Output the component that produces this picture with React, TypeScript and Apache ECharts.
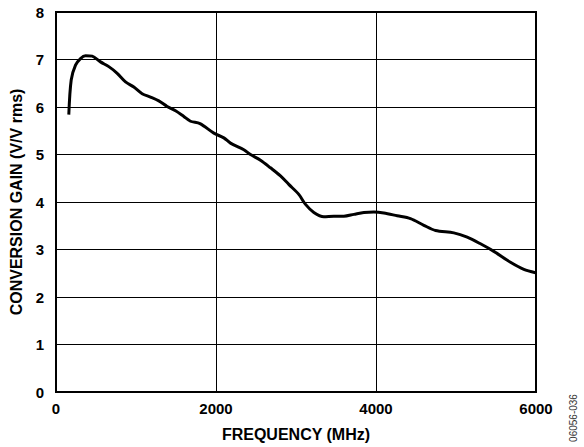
import React, { useEffect, useRef } from "react";
import * as echarts from "echarts";

const frequencyMHz = [
  160, 190, 244, 306, 369, 452, 556, 660, 765, 869, 973, 1077, 1181, 1285, 1390,
  1494, 1598, 1681, 1800, 1973, 2098, 2181, 2348, 2431, 2556, 2681, 2806, 2910,
  3035, 3119, 3223, 3348, 3473, 3598, 3723, 3848, 3973, 4098, 4265, 4431, 4598,
  4744, 4973, 5140, 5306, 5473, 5681, 5848, 5994,
];
const conversionGain = [
  5.84, 6.57, 6.88, 7.02, 7.08, 7.07, 6.95, 6.85, 6.71, 6.53, 6.42, 6.28, 6.21,
  6.13, 6.01, 5.92, 5.8, 5.7, 5.65, 5.45, 5.35, 5.24, 5.1, 5.0, 4.88, 4.72, 4.55,
  4.37, 4.16, 3.95, 3.78, 3.69, 3.7, 3.7, 3.74, 3.78, 3.79, 3.77, 3.71, 3.65, 3.51,
  3.4, 3.35, 3.26, 3.12, 2.96, 2.73, 2.58, 2.51,
];
const xTicks = { min: 0, max: 6000, interval: 2000 };
const yTicks = { min: 0, max: 8, interval: 1 };
const xName = "FREQUENCY (MHz)";
const yName = "CONVERSION GAIN (V/V rms)";
const figureId = "06056-036";

export default function App() {
  const ref = useRef<HTMLDivElement>(null);
  useEffect(() => {
    if (!ref.current) return;
    const chart = echarts.init(ref.current, null, { renderer: "svg" });
    const font = "'Liberation Sans', Arial, sans-serif";
    chart.setOption({
      animation: false,
      backgroundColor: "#ffffff",
      grid: {
        left: 56,
        right: 48,
        top: 12,
        bottom: 52,
        show: true,
        borderColor: "#000",
        borderWidth: 2,
        backgroundColor: "transparent",
      },
      xAxis: {
        type: "value",
        min: xTicks.min,
        max: xTicks.max,
        interval: xTicks.interval,
        name: xName,
        nameLocation: "middle",
        nameGap: 34,
        nameTextStyle: { fontFamily: font, fontWeight: "bold", fontSize: 16, color: "#000" },
        axisLine: { show: true, lineStyle: { color: "#000", width: 2 } },
        axisTick: { show: false },
        axisLabel: {
          fontFamily: font,
          fontWeight: "bold",
          fontSize: 15,
          color: "#000",
          margin: 9,
          formatter: (v: number) => String(v),
        },
        splitLine: { show: true, lineStyle: { color: "#000", width: 1 } },
      },
      yAxis: {
        type: "value",
        min: yTicks.min,
        max: yTicks.max,
        interval: yTicks.interval,
        name: yName,
        nameLocation: "middle",
        nameGap: 32,
        nameTextStyle: { fontFamily: font, fontWeight: "bold", fontSize: 16, color: "#000" },
        axisLine: { show: true, lineStyle: { color: "#000", width: 2 } },
        axisTick: { show: false },
        axisLabel: {
          fontFamily: font,
          fontWeight: "bold",
          fontSize: 15,
          color: "#000",
          margin: 12,
          formatter: (v: number) => String(v),
        },
        splitLine: { show: true, lineStyle: { color: "#000", width: 1 } },
      },
      graphic: [
        {
          type: "text",
          x: 573,
          y: 418,
          rotation: Math.PI / 2,
          style: {
            text: figureId,
            fontFamily: font,
            fontSize: 10,
            fill: "#333",
            align: "center",
            verticalAlign: "middle",
          },
        },
      ],
      series: [
        {
          type: "line",
          data: frequencyMHz.map((f, i) => [f, conversionGain[i]]),
          showSymbol: false,
          smooth: 0.3,
          lineStyle: { color: "#000", width: 3 },
        },
      ],
    });
    return () => chart.dispose();
  }, []);
  return (
    <div
      ref={ref}
      style={{ position: "fixed", left: 0, top: 0, width: 584, height: 447 }}
    />
  );
}
